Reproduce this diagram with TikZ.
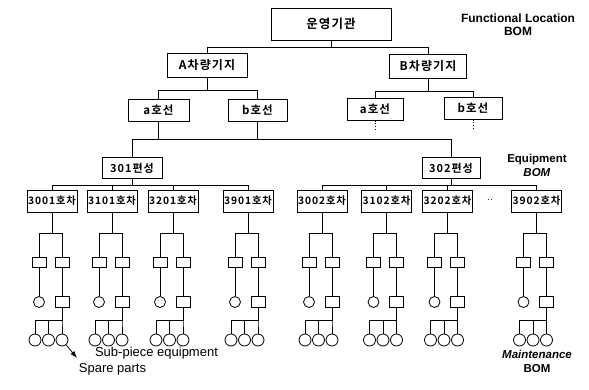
\documentclass[tikz,border=0pt]{standalone}
\usepackage{fontspec}
\setmainfont{Liberation Sans}
\newfontfamily\krfont{Noto Sans CJK KR}[LetterSpace=9,BoldFont={Noto Sans CJK KR Bold}]
\usepackage{tikz}
\usetikzlibrary{arrows.meta,calc}

\begin{document}
\begin{tikzpicture}[x=1pt, y=-1pt, box/.style={draw, line width=1pt, inner sep=0pt, minimum height=22pt, font=\krfont\bfseries\fontsize{11.5}{13}\selectfont}, carbox/.style={box, minimum width=50pt, minimum height=22pt, font=\krfont\bfseries\fontsize{10.3}{12}\selectfont}, part/.style={draw, line width=0.8pt, inner sep=0pt, minimum width=14pt, minimum height=10pt}, leaf/.style={draw, circle, line width=0.8pt, inner sep=0pt, minimum size=11pt}, wire/.style={line width=0.8pt}, bomtext/.style={align=center, font=\bfseries\fontsize{11.5}{14}\selectfont}]
\useasboundingbox[fill=white] (0,0) rectangle (589,389);
% functional location
\node[box, minimum width=120pt, minimum height=32pt, font=\krfont\bfseries\fontsize{12.5}{14}\selectfont] (org) at (331,24) {운영기관};
\node[box, minimum width=80pt, minimum height=24pt, font=\krfont\bfseries\fontsize{12}{14}\selectfont] (baseA) at (207,65) {A차량기지};
\node[box, minimum width=77pt, minimum height=24pt, font=\krfont\bfseries\fontsize{12}{14}\selectfont] (baseB) at (428,66) {B차량기지};
\node[box, minimum width=61pt] (lineAa) at (158.5,110) {a호선};
\node[box, minimum width=59pt] (lineAb) at (257.5,110) {b호선};
\node[box, minimum width=56pt] (lineBa) at (375,109) {a호선};
\node[box, minimum width=58pt] (lineBb) at (473,108) {b호선};
\coordinate (stubBa) at (375,130);
\coordinate (stubBb) at (473,129);
\draw[wire] (org.south) -- ++(0,7) -| (baseA.north);
\draw[wire] (org.south) ++(0,7) -| (baseB.north);
\draw[wire] (baseA.south) -- ++(0,13) -| (lineAa.north);
\draw[wire] (baseA.south) ++(0,13) -| (lineAb.north);
\draw[wire] (baseB.south) -- ++(0,13) -| (lineBa.north);
\draw[wire] (baseB.south) ++(0,13) -| (lineBb.north);
\draw[wire, dotted] (lineBa) -- (stubBa);
\draw[wire, dotted] (lineBb) -- (stubBb);
% equipment
\node[box, minimum width=60pt, minimum height=21pt, font=\krfont\bfseries\fontsize{11}{13}\selectfont] (set1) at (132,168) {301편성};
\node[box, minimum width=58pt, minimum height=21pt, font=\krfont\bfseries\fontsize{11}{13}\selectfont] (set2) at (451,168) {302편성};
\coordinate (setbus) at (132,139);
\draw[wire] (set1.north) -- (setbus) -| (set2.north);
\draw[wire] (lineAa.south) -- (lineAa.south |- setbus);
\draw[wire] (lineAb.south) -- (lineAb.south |- setbus);
\foreach \cid/\cx in {3001/52,3101/112,3201/173,3901/248,3002/322,3102/386.5,3202/447.5,3902/536.5}{
  \node[carbox] (car\cid) at (\cx,201) {\cid{}호차};
  \node[part] (pa\cid) at (\cx-13,262) {};
  \node[part] (pb\cid) at (\cx+10,262) {};
  \node[leaf] (qa\cid) at (\cx-13,302) {};
  \node[part, minimum height=11pt] (qb\cid) at (\cx+10,302) {};
  \node[leaf, minimum size=12pt] (r1\cid) at (\cx-17,340) {};
  \node[leaf, minimum size=12pt] (r2\cid) at (\cx-3.5,340) {};
  \node[leaf, minimum size=12pt] (r3\cid) at (\cx+10,340) {};
  \draw[wire] (car\cid.south) -- ++(0,21) -| (pa\cid.north);
  \draw[wire] (car\cid.south) ++(0,21) -| (pb\cid.north);
  \draw[wire] (pa\cid) -- (qa\cid);
  \draw[wire] (pb\cid) -- (qb\cid);
  \foreach \k in {1,2,3}
    \draw[wire] (qb\cid.south) -- ++(0,12) -| (r\k\cid.north);
}
\foreach \cid in {3001,3101,3201,3901}
  \draw[wire] (set1.south) -- ++(0,6.5) -| (car\cid.north);
\foreach \cid in {3002,3102,3202,3902}
  \draw[wire] (set2.south) -- ++(0,6.5) -| (car\cid.north);
\node[font=\fontsize{9}{10}\selectfont] (gap) at (490,201) {··};
% labels
\node[bomtext, font=\bfseries\fontsize{12}{13}\selectfont] (flbom) at (518,24.5) {Functional Location\\BOM};
\node[bomtext] (eqbom) at (537,165) {Equipment\\\textit{BOM}};
\node[bomtext] (mtbom) at (537,361) {\textit{Maintenance}\\BOM};
\node[font=\fontsize{13}{14}\selectfont] (subpiece) at (156.5,353) {Sub-piece equipment};
\node[font=\fontsize{13}{14}\selectfont] (spare) at (112.5,369) {Spare parts};
\coordinate (sparetip) at (77,358);
\draw[wire, -{Latex[length=7pt,width=5pt]}] (r33001.-50) -- (sparetip);
\end{tikzpicture}
\end{document}
